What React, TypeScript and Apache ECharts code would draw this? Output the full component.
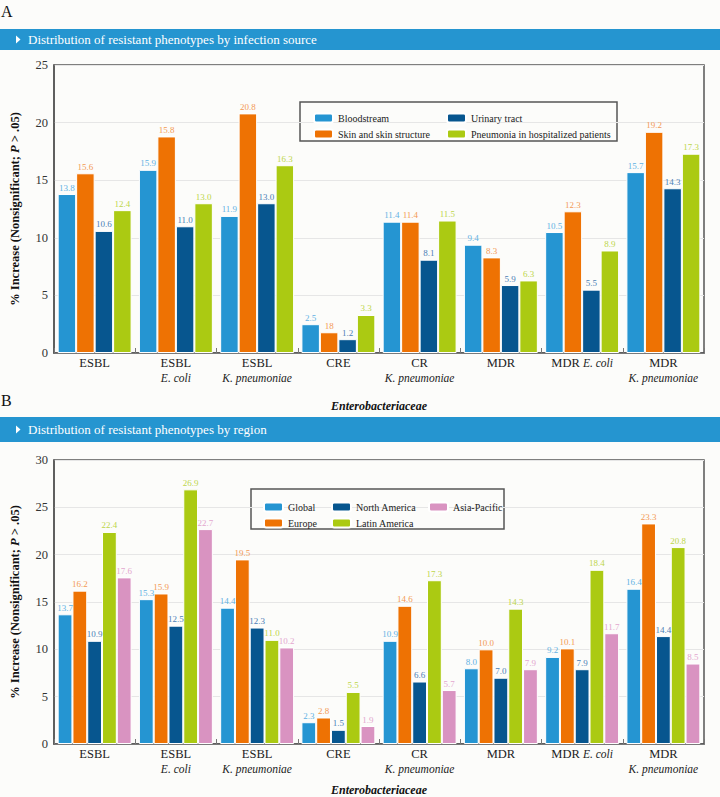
import React, { useEffect, useRef } from "react";
import * as echarts from "echarts";

const categories = [
  "ESBL",
  "ESBL\n{i|E. coli}",
  "ESBL\n{i|K. pneumoniae}",
  "CRE",
  "CR\n{i|K. pneumoniae}",
  "MDR",
  "MDR {i|E. coli}",
  "MDR\n{i|K. pneumoniae}",
];

// Panel A – infection source
const seriesNamesA = ["Bloodstream", "Skin and skin structure", "Urinary tract", "Pneumonia in hospitalized patients"];
const bloodstream = [13.8, 15.9, 11.9, 2.5, 11.4, 9.4, 10.5, 15.7];
const skin = [15.6, 18.8, 20.8, 1.8, 11.4, 8.3, 12.3, 19.2];
const urinary = [10.6, 11.0, 13.0, 1.2, 8.1, 5.9, 5.5, 14.3];
const pneumonia = [12.4, 13.0, 16.3, 3.3, 11.5, 6.3, 8.9, 17.3];
// printed labels that differ from bar heights in the source figure
const skinLabelText: Record<number, string> = { 1: "15.8", 3: "18" };

// Panel B – region
const seriesNamesB = ["Global", "Europe", "North America", "Latin America", "Asia-Pacific"];
const globalV = [13.7, 15.3, 14.4, 2.3, 10.9, 8.0, 9.2, 16.4];
const europe = [16.2, 15.9, 19.5, 2.8, 14.6, 10.0, 10.1, 23.3];
const northAmerica = [10.9, 12.5, 12.3, 1.5, 6.6, 7.0, 7.9, 11.4];
const latinAmerica = [22.4, 26.9, 11.0, 5.5, 17.3, 14.3, 18.4, 20.8];
const asiaPacific = [17.6, 22.7, 10.2, 1.9, 5.7, 7.9, 11.7, 8.5];
const northAmericaLabelText: Record<number, string> = { 7: "14.4" };

const yTicksA = { min: 0, max: 25, interval: 5 };
const yTicksB = { min: 0, max: 30, interval: 5 };

const FONT = "'Liberation Serif', 'DejaVu Serif', serif";
const colors = ["#2595d2", "#ee7203", "#07568f", "#abca12", "#d993c1"];
const labelColors = ["#62b2e4", "#f39a55", "#4b80b6", "#bdd64a", "#e3a7cf"];

function buildData(values: number[], overrides: Record<number, string> = {}) {
  return values.map((v, i) =>
    overrides[i] !== undefined ? { value: v, label: { formatter: overrides[i] } } : { value: v }
  );
}

function barSeries(name: string, values: number[], ci: number, axisIndex: number, overrides?: Record<number, string>) {
  return {
    type: "bar",
    name,
    xAxisIndex: axisIndex,
    yAxisIndex: axisIndex,
    data: buildData(values, overrides),
    barGap: "0%",
    barCategoryGap: "9%",
    itemStyle: { color: colors[ci], borderColor: "#ffffff", borderWidth: 1 },
    label: {
      show: true,
      position: "top",
      distance: 2,
      fontFamily: FONT,
      fontSize: 9,
      color: labelColors[ci],
      formatter: (p: any) => Number(p.value).toFixed(1),
    },
  };
}

function xAxisDef(gridIndex: number, nameGap: number) {
  return {
    type: "category",
    gridIndex,
    data: categories,
    name: "Enterobacteriaceae",
    nameLocation: "middle",
    nameGap,
    nameTextStyle: { fontFamily: FONT, fontSize: 12, fontWeight: "bold", fontStyle: "italic", color: "#111" },
    axisLine: { show: true, lineStyle: { color: "#555", width: 1.5 } },
    axisTick: { show: true, inside: true, length: 5, interval: 0, lineStyle: { color: "#777" } },
    axisLabel: {
      interval: 0,
      margin: 2,
      fontFamily: FONT,
      fontSize: 12.5,
      color: "#222",
      lineHeight: 15,
      rich: { i: { fontFamily: FONT, fontStyle: "italic", fontSize: 11.5, color: "#222", lineHeight: 15 } },
    },
  };
}

function yAxisDef(gridIndex: number, ticks: { min: number; max: number; interval: number }) {
  return {
    type: "value",
    gridIndex,
    min: ticks.min,
    max: ticks.max,
    interval: ticks.interval,
    name: "% Increase (Nonsignificant; {i|P} > .05)",
    nameLocation: "middle",
    nameGap: 33,
    nameTextStyle: {
      fontFamily: FONT,
      fontSize: 12.5,
      fontWeight: "bold",
      color: "#111",
      rich: { i: { fontFamily: FONT, fontSize: 12.5, fontWeight: "bold", fontStyle: "italic", color: "#111" } },
    },
    axisLine: { show: true, lineStyle: { color: "#555", width: 1.5 } },
    axisTick: { show: false },
    axisLabel: { margin: 6, fontFamily: FONT, fontSize: 12.5, color: "#333" },
    splitLine: { show: true, lineStyle: { color: "#e6e6e6", width: 1 } },
  };
}

function legendCol(names: string[], left: number, top: number) {
  return {
    data: names,
    orient: "vertical",
    left,
    top,
    itemWidth: 19,
    itemHeight: 9,
    itemGap: 4,
    selectedMode: false,
    textStyle: { fontFamily: FONT, fontSize: 10, color: "#222", lineHeight: 12 },
  };
}

function banner(y: number, h: number, text: string) {
  const cy = y + h / 2;
  return [
    { type: "rect", shape: { x: 0, y, width: 720, height: h }, style: { fill: "#2595d0" }, silent: true },
    {
      type: "polygon",
      shape: { points: [[16, cy - 4], [20.5, cy], [16, cy + 4]] },
      style: { fill: "#ffffff" },
      silent: true,
    },
    {
      type: "text",
      x: 28,
      y: cy,
      style: { text, fill: "#ffffff", font: `13px ${FONT}`, verticalAlign: "middle" },
      silent: true,
    },
  ];
}

export default function App() {
  const ref = useRef<HTMLDivElement>(null);
  useEffect(() => {
    if (!ref.current) return;
    const chart = echarts.init(ref.current, undefined, { renderer: "svg" });
    chart.setOption({
      animation: false,
      backgroundColor: "#fcfcfa",
      textStyle: { fontFamily: FONT },
      grid: [
        { left: 51, top: 65, width: 653, height: 288, show: true, borderColor: "#555", borderWidth: 1.5, backgroundColor: "transparent" },
        { left: 51, top: 460, width: 653, height: 288, show: true, borderColor: "#555", borderWidth: 1.5, backgroundColor: "transparent" },
      ],
      xAxis: [xAxisDef(0, 47), xAxisDef(1, 40)],
      yAxis: [yAxisDef(0, yTicksA), yAxisDef(1, yTicksB)],
      legend: [
        legendCol([seriesNamesA[0], seriesNamesA[1]], 308, 107),
        legendCol([seriesNamesA[2], seriesNamesA[3]], 441, 107),
        legendCol([seriesNamesB[0], seriesNamesB[1]], 258, 496),
        legendCol([seriesNamesB[2], seriesNamesB[3]], 326, 496),
        legendCol([seriesNamesB[4]], 423, 496),
      ],
      graphic: [
        { type: "text", x: 1, y: 3, style: { text: "A", fill: "#111", font: `16px ${FONT}` }, silent: true },
        { type: "text", x: 1, y: 392, style: { text: "B", fill: "#111", font: `16px ${FONT}` }, silent: true },
        ...banner(29, 21, "Distribution of resistant phenotypes by infection source"),
        ...banner(417, 25, "Distribution of resistant phenotypes by region"),
        {
          type: "rect",
          shape: { x: 300, y: 102, width: 317, height: 39 },
          style: { fill: "none", stroke: "#555", lineWidth: 1.5 },
          silent: true,
        },
        {
          type: "rect",
          shape: { x: 251, y: 489, width: 253, height: 40 },
          style: { fill: "none", stroke: "#555", lineWidth: 1.5 },
          silent: true,
        },
      ],
      series: [
        barSeries(seriesNamesA[0], bloodstream, 0, 0),
        barSeries(seriesNamesA[1], skin, 1, 0, skinLabelText),
        barSeries(seriesNamesA[2], urinary, 2, 0),
        barSeries(seriesNamesA[3], pneumonia, 3, 0),
        barSeries(seriesNamesB[0], globalV, 0, 1),
        barSeries(seriesNamesB[1], europe, 1, 1),
        barSeries(seriesNamesB[2], northAmerica, 2, 1, northAmericaLabelText),
        barSeries(seriesNamesB[3], latinAmerica, 3, 1),
        barSeries(seriesNamesB[4], asiaPacific, 4, 1),
      ],
    });
    return () => chart.dispose();
  }, []);
  return (
    <div
      ref={ref}
      style={{ position: "absolute", left: 0, top: 0, width: 720, height: 797, background: "#fcfcfa" }}
    />
  );
}
